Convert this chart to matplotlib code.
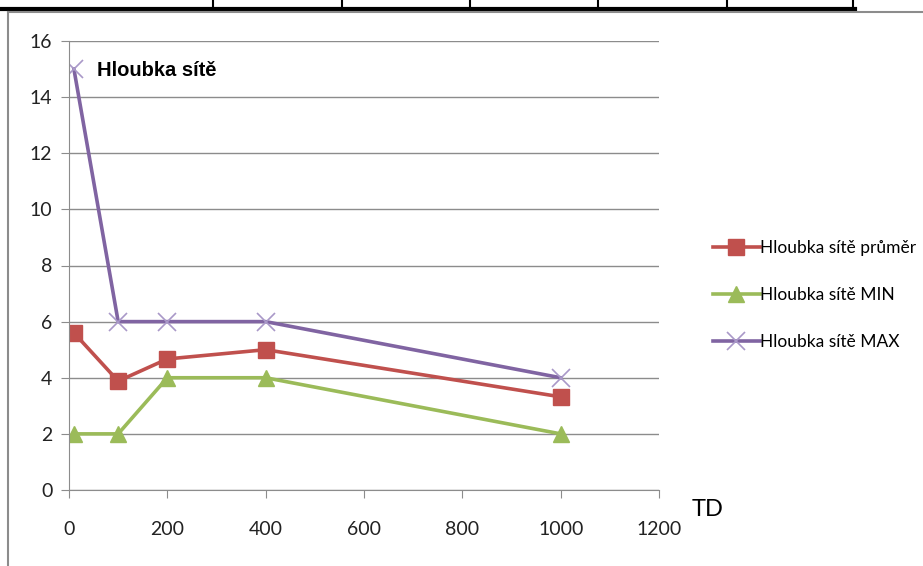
import matplotlib.pyplot as plt
from matplotlib.lines import Line2D

td = [10, 100, 200, 400, 1000]
avg_depth = [5.6, 3.88, 4.67, 5.0, 3.32]
min_depth = [2, 2, 4, 4, 2]
max_depth = [15, 6, 6, 6, 4]

labels = ['Hloubka sítě průměr', 'Hloubka sítě MIN', 'Hloubka sítě MAX']

plt.rcParams['font.family'] = ['Lato', 'DejaVu Sans']

fig = plt.figure(figsize=(9.23, 5.66), dpi=100)
ax = fig.add_axes([69 / 923, 76 / 566, 590 / 923, 449 / 566])

# table remains at top of the screenshot
fig.add_artist(Line2D([0, 855 / 923], [1 - 8.5 / 566] * 2, color='black', lw=3))
for xp in [213, 342, 470, 598, 727, 853]:
    fig.add_artist(Line2D([xp / 923] * 2, [1 - 8 / 566, 1.0], color='black', lw=1.5))
# chart frame
fig.add_artist(Line2D([8 / 923, 1.0], [1 - 12 / 566] * 2, color='#8c8c8c', lw=1.5))
fig.add_artist(Line2D([8 / 923] * 2, [0, 1 - 12 / 566], color='#8c8c8c', lw=1.5))

ax.plot(td, avg_depth, color='#C0504D', lw=2.6, marker='s', ms=11, label=labels[0])
ax.plot(td, min_depth, color='#9BBB59', lw=2.6, marker='^', ms=11, label=labels[1])
ax.plot(td, max_depth, color='#8064A2', lw=2.6, marker='x', ms=13, mew=1.2,
        mec='#a998c8', label=labels[2])

ax.set_xlim(0, 1200)
ax.set_ylim(0, 16)
ax.set_xticks(range(0, 1201, 200))
ax.set_yticks(range(0, 17, 2))
ax.yaxis.grid(True, color='#8c8c8c', lw=1)
ax.set_axisbelow(True)
for s in ['top', 'right']:
    ax.spines[s].set_visible(False)
for s in ['left', 'bottom']:
    ax.spines[s].set_color('#8c8c8c')
ax.tick_params(axis='both', colors='#8c8c8c', labelcolor='#222222', labelsize=14, length=6)
ax.tick_params(axis='x', pad=16)
ax.tick_params(axis='y', pad=6)

ax.text(97 / 923, 1 - 70 / 566, 'Hloubka sítě', transform=fig.transFigure, fontsize=14.5,
        fontweight='bold', family='Liberation Sans', va='center')
fig.text(692 / 923, 1 - 510 / 566, 'TD', fontsize=17, va='center')

fig.legend(loc='upper left', bbox_to_anchor=(697 / 923, 1 - 224 / 566), frameon=False,
           fontsize=12.5, labelspacing=1.8, handlelength=2.7, handletextpad=0.05)

fig.savefig('out.png', dpi=100)
